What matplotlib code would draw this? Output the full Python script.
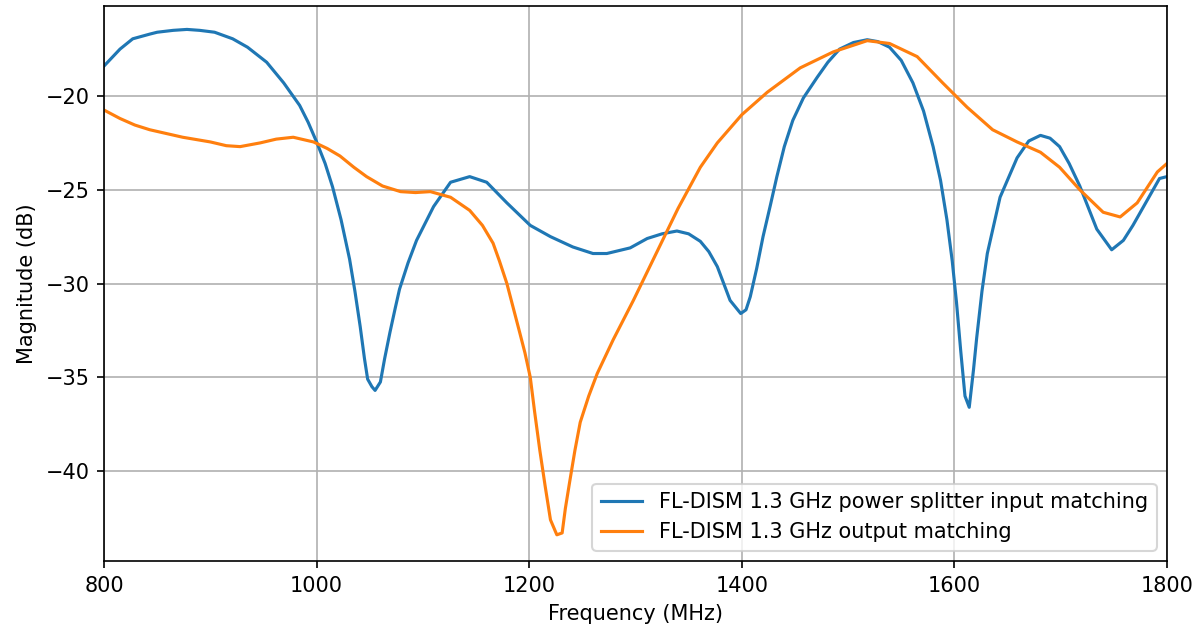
import matplotlib
matplotlib.use("Agg")
import matplotlib.pyplot as plt

# values (MHz, dB)
freq_in = [800, 815, 827, 843, 850, 865, 878, 890, 904, 921, 935, 953, 969, 984,
           992, 1000, 1008, 1015, 1023, 1031, 1036, 1041, 1045, 1048, 1052, 1055,
           1060, 1064, 1069, 1074, 1078, 1086, 1094, 1110, 1126, 1144, 1160, 1179,
           1201, 1220, 1241, 1260, 1273, 1295, 1311, 1325, 1339, 1350, 1361, 1369,
           1377, 1389, 1399, 1404, 1408, 1414, 1420, 1427, 1433, 1440, 1448, 1458,
           1471, 1481, 1492, 1505, 1518, 1528, 1539, 1550, 1561, 1571, 1580, 1587,
           1593, 1598, 1602, 1606, 1610, 1614, 1618, 1621, 1626, 1631, 1643, 1659,
           1670, 1681, 1690, 1699, 1708, 1718, 1734, 1748, 1759, 1768, 1778, 1793,
           1800]
s11_in = [-18.4, -17.5, -16.95, -16.7, -16.6, -16.5, -16.45, -16.5, -16.6, -16.95, -17.4,
          -18.2, -19.3, -20.5, -21.4, -22.45, -23.6, -24.85, -26.6, -28.7, -30.4,
          -32.3, -34.0, -35.1, -35.5, -35.7, -35.25, -34.0, -32.6, -31.3, -30.3,
          -28.9, -27.7, -25.9, -24.6, -24.3, -24.6, -25.7, -26.9, -27.5, -28.05,
          -28.4, -28.4, -28.1, -27.6, -27.35, -27.2, -27.35, -27.75, -28.3, -29.1,
          -30.9, -31.6, -31.4, -30.7, -29.2, -27.5, -25.8, -24.3, -22.7, -21.3,
          -20.1, -19.0, -18.2, -17.5, -17.15, -17.0, -17.1, -17.4, -18.1, -19.3,
          -20.8, -22.7, -24.5, -26.6, -28.8, -31.0, -33.6, -36.0, -36.6, -34.6,
          -32.9, -30.4, -28.4, -25.4, -23.3, -22.4, -22.1, -22.25, -22.7, -23.6,
          -24.8, -27.1, -28.2, -27.7, -26.9, -25.9, -24.4, -24.3]

freq_out = [800, 815, 829, 843, 874, 900, 915, 928, 947, 962, 978, 997, 1010, 1022,
            1035, 1047, 1062, 1079, 1093, 1107, 1126, 1144, 1156, 1166, 1172, 1179,
            1185, 1191, 1196, 1201, 1205, 1210, 1215, 1220, 1226, 1231, 1234, 1238,
            1243, 1248, 1256, 1264, 1279, 1298, 1316, 1340, 1361, 1377, 1400, 1424,
            1455, 1486, 1518, 1539, 1565, 1589, 1612, 1636, 1659, 1681, 1699, 1718,
            1740, 1756, 1772, 1791, 1800]
s22_out = [-20.75, -21.2, -21.55, -21.8, -22.2, -22.45, -22.65, -22.7, -22.5, -22.3, -22.2,
           -22.45, -22.8, -23.2, -23.8, -24.3, -24.8, -25.1, -25.15, -25.1, -25.4,
           -26.1, -26.9, -27.85, -28.8, -30.0, -31.3, -32.6, -33.7, -35.0, -36.8,
           -38.9, -40.8, -42.6, -43.4, -43.3, -42.0, -40.6, -38.9, -37.4, -36.0,
           -34.8, -33.0, -30.9, -28.8, -26.0, -23.8, -22.5, -21.0, -19.8, -18.5,
           -17.65, -17.05, -17.2, -17.9, -19.3, -20.6, -21.8, -22.45, -23.0, -23.8,
           -25.0, -26.2, -26.45, -25.7, -24.05, -23.6]

label_in = "FL-DISM 1.3 GHz power splitter input matching"
label_out = "FL-DISM 1.3 GHz output matching"

fig = plt.figure(figsize=(1196 / 150, 629 / 150), dpi=150)
ax = fig.add_axes([0.087, 0.108, 0.8887, 0.8825])

ax.plot(freq_in, s11_in, color="#1f77b4", label=label_in)
ax.plot(freq_out, s22_out, color="#ff7f0e", label=label_out)

ax.set_xlim(800, 1800)
ax.set_ylim(-44.8, -15.2)
ax.set_xlabel("Frequency (MHz)")
ax.set_ylabel("Magnitude (dB)")
ax.grid(True)
ax.legend(loc="lower right")

fig.savefig("out.png", dpi=150)
